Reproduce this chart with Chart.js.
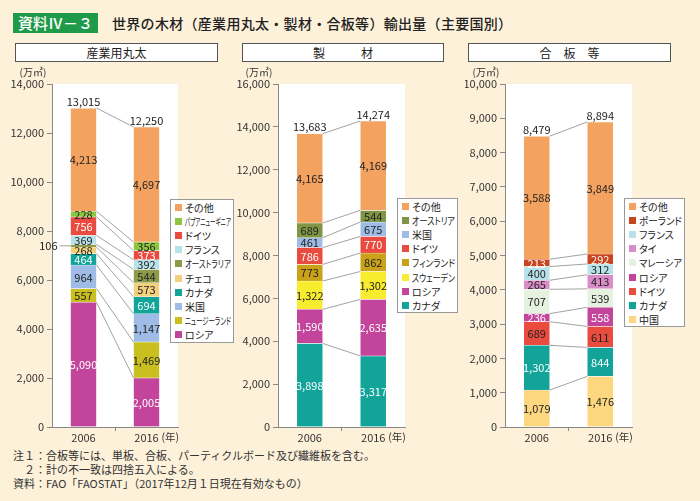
<!DOCTYPE html>
<html lang="ja">
<head>
<meta charset="utf-8">
<script src="https://cdn.jsdelivr.net/npm/chart.js@4"></script>
<style>
  html, body { margin: 0; padding: 0; }
  body {
    width: 700px; height: 501px; position: relative; overflow: hidden;
    background: #FDF1DA; color: #222;
    font-family: "Noto Sans CJK JP", "Noto Sans", sans-serif;
  }
  .tag {
    position: absolute; left: 13px; top: 13px; width: 85px; height: 20px;
    background: #1E9A48; color: #fff; font-size: 15px; line-height: 20px;
    text-align: center; font-weight: 500;
  }
  .title { position: absolute; left: 112px; top: 12px; font-size: 14px; line-height: 22px; font-weight: 500; letter-spacing: 0.3px; }
  .head {
    position: absolute; top: 43px; height: 17px; background: #fff; border: 1px solid #555;
    font-size: 12px; line-height: 17px; text-align: center; white-space: pre;
  }
  canvas { position: absolute; top: 66px; }
  .legend {
    position: absolute; background: #fff; border: 1px solid #999; box-sizing: border-box;
    font-size: 10px; font-feature-settings: "palt" 1;
  }
  .item { height: 14.2px; display: flex; align-items: center; padding-left: 4px; white-space: nowrap; }
  .sw { width: 7px; height: 7px; margin-right: 3px; flex: none; }
  .tx { display: inline-block; transform-origin: left center; }
  .notes { position: absolute; left: 13px; top: 448px; font-size: 11px; line-height: 14px; white-space: pre; color: #333; }
</style>
</head>
<body>
<div class="tag">資料Ⅳ－３</div>
<div class="title">世界の木材（産業用丸太・製材・合板等）輸出量（主要国別）</div>

<div class="head" style="left:15px; width:201px;">産業用丸太</div>
<div class="head" style="left:242px; width:200px;">製　　　材</div>
<div class="head" style="left:468px; width:201px;">合　板　等</div>

<canvas id="logChart" width="235" height="380" style="left:0px"></canvas>
<canvas id="lumberChart" width="230" height="380" style="left:235px"></canvas>
<canvas id="panelChart" width="235" height="380" style="left:465px"></canvas>

<div class="legend" id="logLegend" style="left:170px; top:199px; width:64px; height:144px;"></div>
<div class="legend" id="lumberLegend" style="left:397px; top:198px; width:61px; height:115px;"></div>
<div class="legend" id="panelLegend" style="left:624px; top:198px; width:61px; height:129px;"></div>

<div class="notes">注１：合板等には、単板、合板、パーティクルボード及び繊維板を含む。
　２：計の不一致は四捨五入による。
資料：FAO「FAOSTAT」（2017年12月１日現在有効なもの）</div>

<script>
// ── Data (万㎥), stacks listed bottom → top ─────────────────────────────────────

const YEARS = ['2006', '2016'];

const LOG_COUNTRIES = ['ロシア', 'ニュージーランド', '米国', 'カナダ', 'チェコ', 'オーストラリア', 'フランス', 'ドイツ', 'パプアニューギニア', 'その他'];
const LOG_2006   = [5090,  557,  964, 464, 268, 106, 369, 756, 228, 4213];
const LOG_2016   = [2005, 1469, 1147, 694, 573, 544, 392, 373, 356, 4697];
const LOG_TOTALS = [13015, 12250];
const LOG_TICKS  = [0, 2000, 4000, 6000, 8000, 10000, 12000, 14000];

const LUMBER_COUNTRIES = ['カナダ', 'ロシア', 'スウェーデン', 'フィンランド', 'ドイツ', '米国', 'オーストリア', 'その他'];
const LUMBER_2006   = [3898, 1590, 1322, 773, 786, 461, 689, 4165];
const LUMBER_2016   = [3317, 2635, 1302, 862, 770, 675, 544, 4169];
const LUMBER_TOTALS = [13683, 14274];
const LUMBER_TICKS  = [0, 2000, 4000, 6000, 8000, 10000, 12000, 14000, 16000];

const PANEL_COUNTRIES = ['中国', 'カナダ', 'ドイツ', 'ロシア', 'マレーシア', 'タイ', 'フランス', 'ポーランド', 'その他'];
const PANEL_2006   = [1079, 1302, 689, 236, 707, 265, 400, 213, 3588];
const PANEL_2016   = [1476,  844, 611, 558, 539, 413, 312, 292, 3849];
const PANEL_TOTALS = [8479, 8894];
const PANEL_TICKS  = [0, 1000, 2000, 3000, 4000, 5000, 6000, 7000, 8000, 9000, 10000];

// ── Styles ────────────────────────────────────────────────────────────────────

const COLORS = {
    'その他': '#F3A35F', 'パプアニューギニア': '#8CC63E', 'ドイツ': '#EA4B3F', 'フランス': '#B8E2EA',
    'オーストラリア': '#8B9B4A', 'チェコ': '#F3D07C', 'カナダ': '#12A399', '米国': '#9FBCE6',
    'ニュージーランド': '#C9C020', 'ロシア': '#C2459B', 'オーストリア': '#7F9545',
    'フィンランド': '#C9A21A', 'スウェーデン': '#F7EC2E', 'ポーランド': '#C8441E',
    'タイ': '#D98DC8', 'マレーシア': '#E5F2DF', '中国': '#FDD680'
};
const NUM_FONT = '"Liberation Sans Narrow", "Noto Sans CJK JP", sans-serif';
const JP_FONT  = '"Noto Sans CJK JP", sans-serif';
const fmt = v => v.toLocaleString('en-US');

// ── Plugin: white plot area, connectors, value labels, totals ────────────────

function decor(totals, whiteLabels) {
    return {
        id: 'decor',
        beforeDraw(chart) {
            const { ctx, chartArea: a } = chart;
            ctx.save();
            ctx.fillStyle = '#fff';
            ctx.fillRect(a.left, a.top, a.right - a.left, a.bottom - a.top);
            ctx.restore();
        },
        afterDatasetsDraw(chart) {
            const ctx = chart.ctx;
            const metas = chart.data.datasets.map((_, i) => chart.getDatasetMeta(i));
            ctx.save();

            // segment boundaries joined between the two years
            ctx.strokeStyle = '#8a8a8a';
            ctx.lineWidth = 0.8;
            metas.forEach(meta => {
                const [a, b] = meta.data;
                ctx.beginPath();
                ctx.moveTo(a.x + a.width / 2, a.y);
                ctx.lineTo(b.x - b.width / 2, b.y);
                ctx.stroke();
            });

            ctx.font = '11px ' + NUM_FONT;
            ctx.textAlign = 'center';
            ctx.textBaseline = 'middle';
            metas.forEach((meta, i) => {
                const ds = chart.data.datasets[i];
                meta.data.forEach((bar, j) => {
                    const txt = fmt(ds.data[j]);
                    const ym = (bar.y + bar.base) / 2;
                    if (bar.base - bar.y < 4) {
                        // too thin: put the number on the left with a leader
                        const x0 = bar.x - bar.width / 2;
                        ctx.beginPath();
                        ctx.moveTo(x0 - 11, ym);
                        ctx.lineTo(x0, ym);
                        ctx.stroke();
                        ctx.fillStyle = '#222';
                        ctx.textAlign = 'right';
                        ctx.fillText(txt, x0 - 13, ym);
                        ctx.textAlign = 'center';
                    } else {
                        ctx.fillStyle = whiteLabels.includes(ds.label) ? '#fff' : '#222';
                        ctx.fillText(txt, bar.x, ym + 0.5);
                    }
                });
            });

            const top = metas[metas.length - 1];
            ctx.fillStyle = '#222';
            ctx.textBaseline = 'bottom';
            totals.forEach((t, j) => {
                ctx.fillText(fmt(t), top.data[j].x, chart.scales.y.getPixelForValue(t) - 1);
            });
            ctx.restore();
        },
        afterDraw(chart) {
            const { ctx, chartArea: a, scales } = chart;
            ctx.save();
            ctx.fillStyle = '#333';
            ctx.font = '10px ' + JP_FONT;
            ctx.textAlign = 'center';
            ctx.textBaseline = 'middle';
            ctx.fillText('(万㎥)', a.left - 19, a.top - 12);
            ctx.textAlign = 'left';
            ctx.font = '10.5px ' + JP_FONT;
            ctx.fillText('(年)', scales.x.getPixelForValue(1) + 15, a.bottom + 10);
            ctx.restore();
        }
    };
}

// ── Chart builder ─────────────────────────────────────────────────────────────

function makeChart(id, countries, v2006, v2016, totals, ticks, axisWidth, rightPad, whiteLabels) {
    const datasets = countries.map((name, i) => ({
        label: name,
        data: [v2006[i], v2016[i]],
        backgroundColor: COLORS[name],
        borderColor: '#fff',
        borderWidth: 0.6,
        barThickness: 26
    }));

    new Chart(document.getElementById(id), {
        type: 'bar',
        data: { labels: YEARS, datasets },
        options: {
            responsive: false,
            animation: false,
            events: [],
            layout: { padding: { top: 18, right: rightPad, left: 0, bottom: 0 } },
            plugins: { legend: { display: false }, tooltip: { enabled: false } },
            scales: {
                x: {
                    stacked: true,
                    offset: true,
                    grid: {
                        drawOnChartArea: false, tickLength: 4,
                        color: c => c.index === 1 ? '#888' : 'rgba(0,0,0,0)'
                    },
                    border: { color: '#888' },
                    ticks: { color: '#333', padding: 0, font: { size: 11, family: NUM_FONT } },
                    afterFit: s => { s.height = 19; }
                },
                y: {
                    stacked: true,
                    min: 0,
                    max: ticks[ticks.length - 1],
                    afterBuildTicks: s => { s.ticks = ticks.map(v => ({ value: v })); },
                    grid: { drawOnChartArea: false, tickLength: 5, color: '#888' },
                    border: { color: '#888' },
                    ticks: { color: '#333', padding: 3, font: { size: 11, family: NUM_FONT }, callback: v => fmt(v) },
                    afterFit: s => { s.width = axisWidth; }
                }
            }
        },
        plugins: [decor(totals, whiteLabels)]
    });
}

function buildLegend(id, countries) {
    const box = document.getElementById(id);
    [...countries].reverse().forEach(name => {
        const row = document.createElement('div');
        row.className = 'item';
        row.innerHTML = `<span class="sw" style="background:${COLORS[name]}"></span><span class="tx">${name}</span>`;
        box.appendChild(row);
    });
    // squeeze the long katakana names into the box
    box.querySelectorAll('.tx').forEach(tx => {
        const room = box.clientWidth - tx.offsetLeft - 2;
        const w = tx.getBoundingClientRect().width;
        if (w > room) tx.style.transform = `scaleX(${room / w})`;
    });
}

// ── Init ──────────────────────────────────────────────────────────────────────

makeChart('logChart', LOG_COUNTRIES, LOG_2006, LOG_2016, LOG_TOTALS, LOG_TICKS, 52, 57, ['ロシア', 'カナダ', 'ドイツ']);
makeChart('lumberChart', LUMBER_COUNTRIES, LUMBER_2006, LUMBER_2016, LUMBER_TOTALS, LUMBER_TICKS, 43, 60, ['ロシア', 'カナダ', 'ドイツ']);
makeChart('panelChart', PANEL_COUNTRIES, PANEL_2006, PANEL_2016, PANEL_TOTALS, PANEL_TICKS, 40, 68, ['カナダ', 'ロシア', 'ポーランド']);

buildLegend('logLegend', LOG_COUNTRIES);
buildLegend('lumberLegend', LUMBER_COUNTRIES);
buildLegend('panelLegend', PANEL_COUNTRIES);
</script>
</body>
</html>
